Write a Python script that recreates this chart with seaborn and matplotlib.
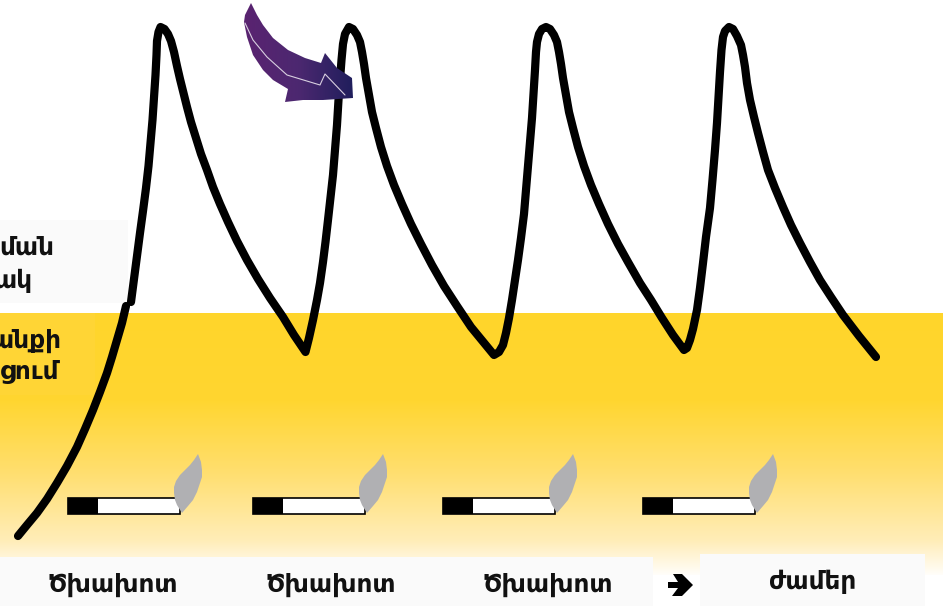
import numpy as np
import pandas as pd
import seaborn as sns
import matplotlib.pyplot as plt
from matplotlib.colors import LinearSegmentedColormap
from matplotlib.patches import Polygon, Rectangle

# curve (image pixels, y goes down)
rise_x = [18, 27, 37, 47, 57, 67, 77, 85, 93, 100, 107, 112, 117, 122, 126]
rise_y = [536, 525, 513, 499, 483, 466, 447, 429, 410, 392, 373, 357, 340, 323, 306]

curve_x = [131, 134, 137, 140, 143, 146, 148.5, 150.5, 152.5, 154, 155.5, 156.5, 157, 158.5, 160.5,
           164.5, 168, 171, 174, 177, 180, 183, 187, 191, 196, 201, 207, 213, 220, 228, 237, 247, 258, 270, 283, 294, 305.5,
           309, 313, 317, 320, 323, 325.5, 328, 330.5, 333, 335, 337, 338.5, 340, 341.5, 343, 345, 349,
           353, 357, 360, 362, 364, 366, 369, 372, 376, 381, 387, 394, 402, 411, 421, 432, 444, 457, 471, 485, 494,
           499, 503, 506, 509, 512, 515, 518, 521, 524, 526, 528, 530, 532, 533.5, 535, 536, 537, 539, 542, 546,
           550, 554, 557, 559, 561, 563, 566, 569, 573, 578, 584, 591, 599, 608, 618, 628, 640, 651, 662, 673, 684,
           687, 690, 693, 697, 700, 703, 706, 710, 712.5, 715, 717, 718.5, 720, 721.5, 723, 725, 729,
           733, 737, 741, 743, 745, 747, 750, 754, 758, 763, 768, 775, 783, 791, 800, 810, 820, 831, 843, 859, 876]
curve_y = [302, 279, 256, 233, 211, 188, 166, 143, 120, 97, 75, 55, 41, 32, 27,
           29, 34, 41, 52, 66, 79, 91, 107, 122, 138, 154, 170, 187, 204, 222, 241, 260, 279, 298, 317, 335, 352,
           338, 320, 300, 283, 262, 242, 220, 197, 175, 150, 125, 100, 80, 60, 44, 34, 27,
           29, 35, 42, 52, 64, 78, 95, 112, 128, 147, 166, 185, 204, 224, 244, 265, 286, 306, 327, 344, 355,
           352, 345, 333, 318, 300, 280, 260, 238, 214, 190, 166, 142, 118, 94, 70, 52, 42, 34, 29, 27,
           29, 35, 42, 52, 64, 78, 95, 112, 128, 147, 166, 185, 204, 224, 244, 262, 283, 300, 318, 335, 350,
           348, 340, 329, 310, 288, 263, 237, 208, 180, 150, 123, 97, 72, 50, 37, 31, 27,
           29, 36, 45, 55, 67, 83, 100, 117, 133, 152, 170, 188, 207, 225, 243, 262, 280, 297, 315, 336, 357]

cig_x = [68, 253, 443, 643]
cig_y = 498
cig_w = 112
cig_h = 16
filter_w = 30

flame_dx = [130, 133, 134, 134, 132, 129, 125, 120, 114, 109, 107, 106, 106, 108, 112, 117, 122, 126]
flame_dy = [-44, -36, -28, -21, -15, -6, 2, 8, 15, 7, 2, -5, -11, -17, -23, -28, -33, -38]

purple_x = [251, 245, 244, 247, 253, 263, 273, 288, 285, 303, 323, 353, 352, 337, 325, 321, 305, 288, 273, 263, 257]
purple_y = [3, 15, 22, 37, 55, 70, 80, 89, 102, 100, 100, 98, 78, 68, 53, 63, 58, 50, 38, 25, 15]
shine_x = [245, 253, 267, 287, 320, 325, 345]
shine_y = [23, 40, 57, 75, 85, 74, 95]

small_arrow_x = [668, 678, 673, 682, 693, 682, 672, 678, 668]
small_arrow_y = [582, 582, 574, 574, 585, 596, 596, 588, 588]

bottom_labels = ['Ծխախոտ', 'Ծխախոտ', 'Ծխախոտ', 'ժամեր']
bottom_x = [113, 331, 548, 812]
bottom_y = [585, 585, 585, 582]
left_labels = ['ման', 'ակ', 'անքի', 'ցում']
left_x = [54, 32, 61, 59]
left_y = [248, 281, 341, 372]

sns.set_theme(style='white')
plt.rcParams['font.family'] = ['DejaVu Sans']

fig = plt.figure(figsize=(9.43, 6.06), dpi=100)
ax = fig.add_axes([0, 0, 1, 1])

# yellow band fading out to white near the bottom
fade = LinearSegmentedColormap.from_list('fade', [(0, '#ffd52b'), (0.33, '#ffd630'), (0.59, '#ffde6c'),
                                                  (0.86, '#ffedb8'), (1, '#ffffff')])
ax.imshow(np.linspace(0, 1, 256).reshape(-1, 1), cmap=fade, aspect='auto',
          extent=[0, 943, 578, 313], zorder=0)

# pale boxes behind the texts
ax.add_patch(Rectangle((0, 220), 128, 83, color='#fafafa', lw=0, zorder=1))
ax.add_patch(Rectangle((0, 313), 95, 82, color='#ffd535', lw=0, zorder=1))
ax.add_patch(Rectangle((0, 557), 653, 49, color='#fafafa', lw=0, zorder=1))
ax.add_patch(Rectangle((653, 575), 47, 31, color='white', lw=0, zorder=1))
ax.add_patch(Rectangle((700, 554), 225, 52, color='#fafafa', lw=0, zorder=1))
ax.add_patch(Rectangle((925, 575), 18, 31, color='white', lw=0, zorder=1))

for xs, ys in [(rise_x, rise_y), (curve_x, curve_y)]:
    df = pd.DataFrame({'x': xs, 'y': ys})
    sns.lineplot(data=df, x='x', y='y', sort=False, estimator=None, color='black', lw=5.9,
                 solid_capstyle='round', solid_joinstyle='round', ax=ax, zorder=3)

for x in cig_x:
    ax.add_patch(Rectangle((x, cig_y), cig_w, cig_h, fc='white', ec='black', lw=1.2, zorder=4))
    ax.add_patch(Rectangle((x, cig_y), filter_w, cig_h, fc='black', ec='none', zorder=4))
    ax.add_patch(Polygon(np.c_[np.add(x, flame_dx), np.add(cig_y, flame_dy)], closed=True,
                         fc='#b0b0b3', ec='none', zorder=5))

# purple arrow, gradient clipped to its outline
outline = Polygon(np.c_[purple_x, purple_y], closed=True, fc='none', ec='none', zorder=6)
ax.add_patch(outline)
purple = LinearSegmentedColormap.from_list('purple', ['#5a2370', '#4c2870', '#201e5c'])
grad = ax.imshow(np.linspace(0, 1, 128).reshape(1, -1), cmap=purple, aspect='auto',
                 extent=[244, 353, 102, 3], zorder=6)
grad.set_clip_path(outline)
ax.plot(shine_x, shine_y, color='#d8cfe0', lw=0.8, zorder=7)

ax.add_patch(Polygon(np.c_[small_arrow_x, small_arrow_y], closed=True, fc='black', ec='none', zorder=5))

for t, x, y in zip(bottom_labels, bottom_x, bottom_y):
    ax.text(x, y, t, ha='center', va='center', size=17.8, fontweight='bold', color='#111111', zorder=8)
for t, x, y in zip(left_labels, left_x, left_y):
    ax.text(x, y, t, ha='right', va='center', size=17.8, fontweight='bold', color='#111111', zorder=8)

ax.set_xlim(0, 943)
ax.set_ylim(606, 0)
ax.set_axis_off()

fig.savefig('out.png', dpi=100)
